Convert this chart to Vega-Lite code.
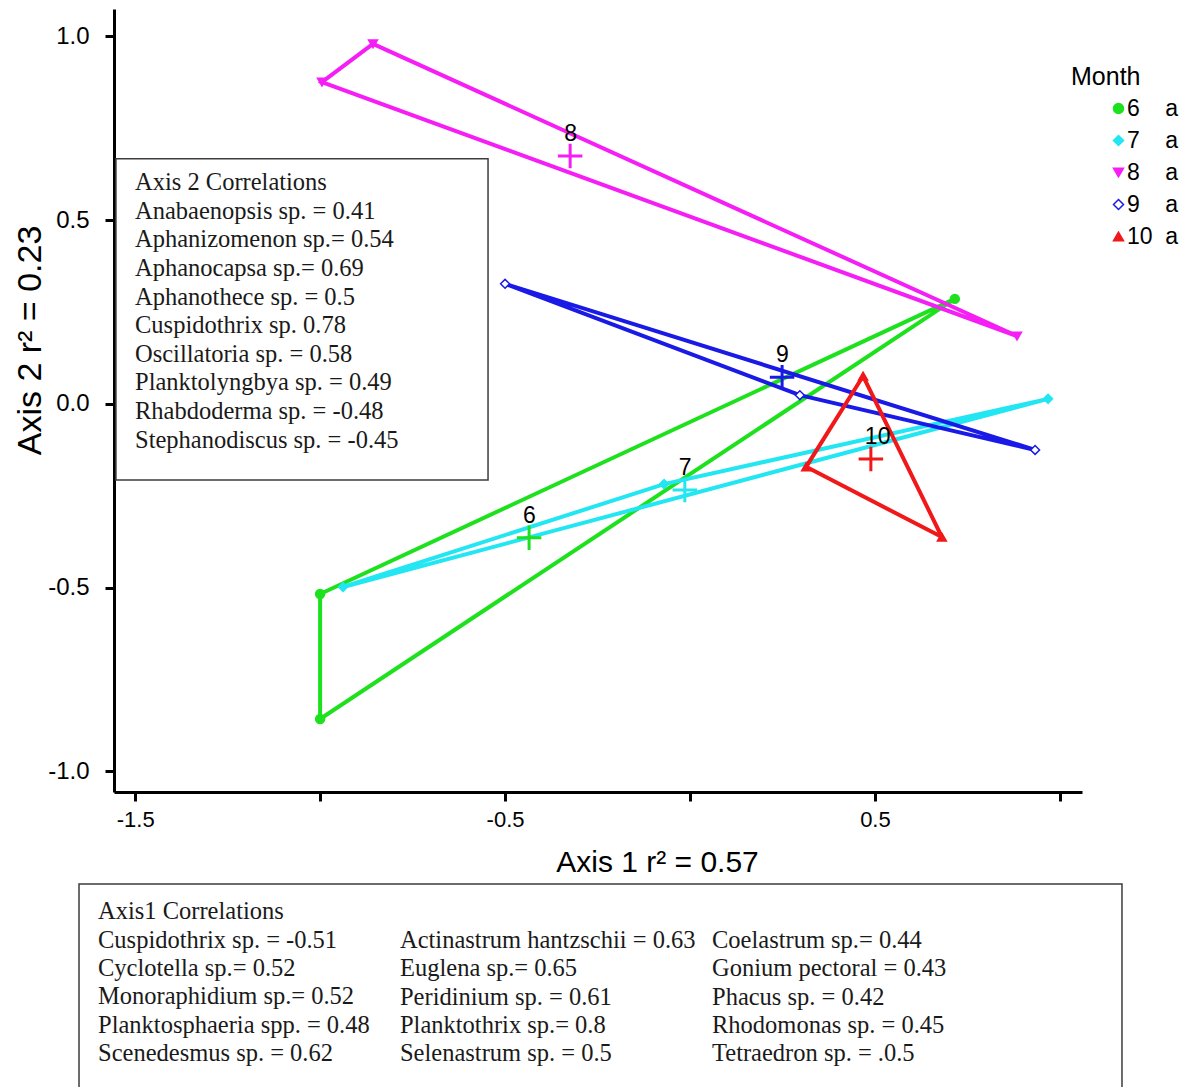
{
  "$schema": "https://vega.github.io/schema/vega-lite/v6.json",
  "autosize": {"type": "none"},
  "width": 968,
  "height": 783,
  "padding": {"left": 114, "top": 9, "right": 111, "bottom": 295},
  "background": "white",
  "config": {
    "view": {"stroke": null},
    "font": "Liberation Sans",
    "axis": {
      "grid": false,
      "domainColor": "black",
      "domainWidth": 3,
      "tickColor": "black",
      "tickWidth": 3,
      "tickSize": 9,
      "labelColor": "black",
      "titleColor": "black",
      "labelFont": "Liberation Sans",
      "titleFont": "Liberation Sans",
      "titleFontWeight": "normal"
    },
    "legend": {
      "titleFont": "Liberation Sans",
      "labelFont": "Liberation Sans",
      "titleFontSize": 25,
      "titleFontWeight": "normal",
      "labelFontSize": 23,
      "titleColor": "black",
      "labelColor": "black",
      "symbolSize": 100,
      "symbolStrokeWidth": 1.5,
      "rowPadding": 8,
      "titlePadding": 7,
      "symbolOffset": 36,
      "labelOffset": -3
    }
  },
  "datasets": {
    "hull": [
      {"month": 6, "order": 1, "x": -1.0, "y": -0.517},
      {"month": 6, "order": 2, "x": 0.716, "y": 0.286},
      {"month": 6, "order": 3, "x": -1.0, "y": -0.857},
      {"month": 7, "order": 1, "x": -0.938, "y": -0.498},
      {"month": 7, "order": 2, "x": -0.07, "y": -0.218},
      {"month": 7, "order": 3, "x": 0.968, "y": 0.014},
      {"month": 8, "order": 1, "x": -0.995, "y": 0.876},
      {"month": 8, "order": 2, "x": -0.857, "y": 0.98},
      {"month": 8, "order": 3, "x": 0.884, "y": 0.185},
      {"month": 9, "order": 1, "x": -0.5, "y": 0.327},
      {"month": 9, "order": 2, "x": 0.933, "y": -0.125},
      {"month": 9, "order": 3, "x": 0.297, "y": 0.024},
      {"month": 10, "order": 1, "x": 0.468, "y": 0.076},
      {"month": 10, "order": 2, "x": 0.681, "y": -0.362},
      {"month": 10, "order": 3, "x": 0.314, "y": -0.171}
    ],
    "centroid": [
      {"month": 6, "x": -0.435, "y": -0.364},
      {"month": 7, "x": -0.014, "y": -0.234},
      {"month": 8, "x": -0.324, "y": 0.675},
      {"month": 9, "x": 0.249, "y": 0.073},
      {"month": 10, "x": 0.489, "y": -0.15}
    ]
  },
  "layer": [
    {
      "data": {"values": [{}]},
      "mark": {"type": "rect", "fill": "white", "stroke": "#3c3c3c", "strokeWidth": 1.5},
      "encoding": {
        "x": {"datum": -1.552, "type": "quantitative", "scale": {"domain": [-1.5572, 1.0598], "nice": false, "zero": false}},
        "x2": {"datum": -0.546},
        "y": {"datum": 0.667, "type": "quantitative", "scale": {"domain": [-1.0558, 1.0748], "nice": false, "zero": false}},
        "y2": {"datum": -0.207}
      }
    },
    {
      "data": {"values": [{}]},
      "mark": {
        "type": "text", "align": "left", "baseline": "alphabetic", "font": "Liberation Serif", "fontSize": 24.5, "lineHeight": 28.63, "color": "#1a1a1a",
        "text": ["Axis 2 Correlations", "Anabaenopsis sp. = 0.41", "Aphanizomenon sp.= 0.54", "Aphanocapsa sp.= 0.69", "Aphanothece sp. = 0.5", "Cuspidothrix sp. 0.78", "Oscillatoria sp. = 0.58", "Planktolyngbya sp. = 0.49", "Rhabdoderma sp. = -0.48", "Stephanodiscus sp. = -0.45"]
      },
      "encoding": {
        "x": {"datum": -1.5004, "type": "quantitative"},
        "y": {"datum": 0.5823, "type": "quantitative"}
      }
    },
    {
      "data": {"values": [{}]},
      "mark": {"type": "rect", "fill": "white", "stroke": "#3c3c3c", "strokeWidth": 1.5},
      "encoding": {
        "x": {"datum": -1.6518, "type": "quantitative"},
        "x2": {"datum": 1.1679},
        "y": {"datum": -1.3061, "type": "quantitative"},
        "y2": {"datum": -2.0}
      }
    },
    {
      "data": {"values": [{}]},
      "mark": {
        "type": "text", "align": "left", "baseline": "alphabetic", "font": "Liberation Serif", "fontSize": 24.5, "lineHeight": 28.3, "color": "#1a1a1a",
        "text": ["Axis1 Correlations", "Cuspidothrix sp.  = -0.51", "Cyclotella sp.= 0.52", "Monoraphidium sp.= 0.52", "Planktosphaeria spp. = 0.48", "Scenedesmus sp. = 0.62"]
      },
      "encoding": {
        "x": {"datum": -1.6004, "type": "quantitative"},
        "y": {"datum": -1.4027, "type": "quantitative"}
      }
    },
    {
      "data": {"values": [{}]},
      "mark": {
        "type": "text", "align": "left", "baseline": "alphabetic", "font": "Liberation Serif", "fontSize": 24.5, "lineHeight": 28.3, "color": "#1a1a1a",
        "text": ["Actinastrum hantzschii = 0.63", "Euglena sp.= 0.65", "Peridinium sp. = 0.61", "Planktothrix sp.= 0.8", "Selenastrum sp. = 0.5"]
      },
      "encoding": {
        "x": {"datum": -0.784, "type": "quantitative"},
        "y": {"datum": -1.4803, "type": "quantitative"}
      }
    },
    {
      "data": {"values": [{}]},
      "mark": {
        "type": "text", "align": "left", "baseline": "alphabetic", "font": "Liberation Serif", "fontSize": 24.5, "lineHeight": 28.3, "color": "#1a1a1a",
        "text": ["Coelastrum sp.= 0.44", "Gonium pectoral = 0.43", "\u00a0Phacus sp. = 0.42", "Rhodomonas sp. = 0.45", "Tetraedron sp. = .0.5"]
      },
      "encoding": {
        "x": {"datum": 0.0595, "type": "quantitative"},
        "y": {"datum": -1.4803, "type": "quantitative"}
      }
    },
    {
      "data": {"name": "hull"},
      "mark": {"type": "line", "interpolate": "linear-closed", "strokeWidth": 4},
      "encoding": {
        "x": {
          "field": "x", "type": "quantitative",
          "axis": {
            "title": "Axis 1 r² = 0.57",
            "values": [-1.5, -1, -0.5, 0, 0.5, 1],
            "labelExpr": "abs((datum.value * 2) % 2) == 1 ? replace(format(datum.value, '.1f'), '\u2212', '-') : ''",
            "labelFontSize": 22,
            "labelPadding": 8,
            "titleFontSize": 30,
            "titleX": 543,
            "titleY": 70,
            "titleBaseline": "middle"
          }
        },
        "y": {
          "field": "y", "type": "quantitative",
          "axis": {
            "title": "Axis 2 r² = 0.23",
            "values": [-1, -0.5, 0, 0.5, 1],
            "labelExpr": "replace(format(datum.value, '.1f'), '\u2212', '-')",
            "labelFontSize": 24,
            "labelPadding": 16,
            "titleFontSize": 34,
            "titleX": -84,
            "titleY": 331,
            "titleAngle": 270,
            "titleBaseline": "middle"
          }
        },
        "stroke": {
          "field": "month", "type": "ordinal",
          "scale": {"domain": [6, 7, 8, 9, 10], "range": ["#1ee11e", "#22e6f2", "#f51ef5", "#1a1ae6", "#f01818"]}
        },
        "order": {"field": "order", "type": "quantitative"}
      }
    },
    {
      "data": {"name": "hull"},
      "mark": {"type": "point", "size": 80, "strokeWidth": 1.5, "opacity": 1},
      "encoding": {
        "x": {"field": "x", "type": "quantitative"},
        "y": {"field": "y", "type": "quantitative"},
        "shape": {
          "field": "month", "type": "ordinal",
          "scale": {"domain": [6, 7, 8, 9, 10], "range": ["circle", "diamond", "triangle-down", "diamond", "triangle-up"]},
          "legend": {"title": "Month", "orient": "none", "legendX": 957, "legendY": 56, "labelExpr": "datum.value == 10 ? '10\u00a0\u00a0a' : datum.label + '\u00a0\u00a0\u00a0\u00a0a'"}
        },
        "fill": {
          "field": "month", "type": "ordinal",
          "scale": {"domain": [6, 7, 8, 9, 10], "range": ["#1ee11e", "#22e6f2", "#f51ef5", "#ffffff", "#f01818"]},
          "legend": {"title": "Month", "orient": "none", "legendX": 957, "legendY": 56, "labelExpr": "datum.value == 10 ? '10\u00a0\u00a0a' : datum.label + '\u00a0\u00a0\u00a0\u00a0a'"}
        },
        "stroke": {
          "field": "month", "type": "ordinal",
          "legend": {"title": "Month", "orient": "none", "legendX": 957, "legendY": 56, "labelExpr": "datum.value == 10 ? '10\u00a0\u00a0a' : datum.label + '\u00a0\u00a0\u00a0\u00a0a'"}
        }
      }
    },
    {
      "data": {"name": "centroid"},
      "mark": {"type": "point", "shape": "M-1,0L1,0M0,-1L0,1", "size": 600, "strokeWidth": 3, "filled": false, "opacity": 1},
      "encoding": {
        "x": {"field": "x", "type": "quantitative"},
        "y": {"field": "y", "type": "quantitative"},
        "stroke": {"field": "month", "type": "ordinal"}
      }
    },
    {
      "data": {"name": "centroid"},
      "mark": {"type": "text", "align": "left", "baseline": "middle", "dx": -6, "dy": -22, "fontSize": 23, "color": "black", "font": "Liberation Sans"},
      "encoding": {
        "x": {"field": "x", "type": "quantitative"},
        "y": {"field": "y", "type": "quantitative"},
        "text": {"field": "month", "type": "ordinal"}
      }
    }
  ]
}
